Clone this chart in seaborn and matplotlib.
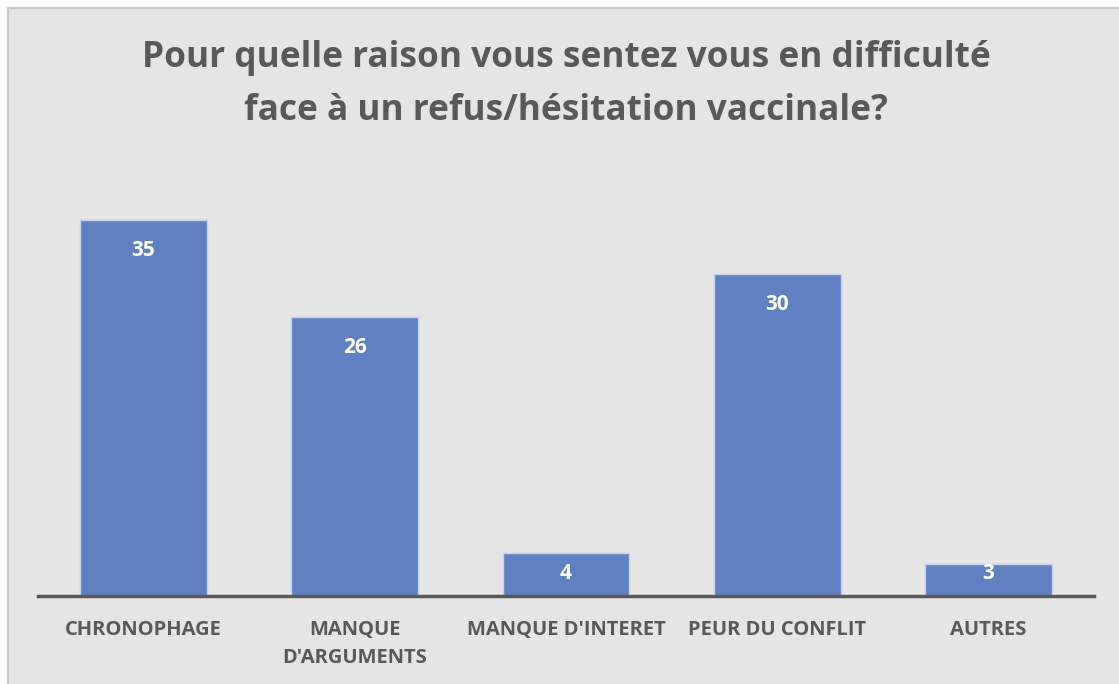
import matplotlib.pyplot as plt
import pandas as pd
import seaborn as sns
from matplotlib.patches import Rectangle

categories = ["CHRONOPHAGE", "MANQUE\nD'ARGUMENTS", "MANQUE D'INTERET", "PEUR DU CONFLIT", "AUTRES"]
counts = [35, 26, 4, 30, 3]
title = "Pour quelle raison vous sentez vous en difficulté\nface à un refus/hésitation vaccinale?"

BG = "#e4e5e4"
BAR = "#5f80c1"
TEXT = "#595959"

sns.set_theme(style="white")
plt.rcParams["font.family"] = ["Open Sans", "DejaVu Sans"]

W, H = 1119, 684
fig = plt.figure(figsize=(W / 100, H / 100), dpi=100, facecolor="white")
fig.patches.append(Rectangle((8 / W, -0.01), 1.02, 1 - 8 / H + 0.01, transform=fig.transFigure,
                             facecolor=BG, edgecolor="#c8c8c8", linewidth=1.5, zorder=0))

ax = fig.add_axes([38 / W, 1 - 596 / H, (1094 - 38) / W, (596 - 166) / H])
ax.set_zorder(2)
ax.patch.set_alpha(0)

df = pd.DataFrame({"raison": categories, "n": counts})
sns.barplot(data=df, x="raison", y="n", color=BAR, width=0.6, edgecolor="#c5d2ec",
            linewidth=1, saturation=1, ax=ax)
ax.set_xlim(-0.5, len(categories) - 0.5)
ax.set_ylim(0, 40)

# labels sit inside the bar top, but never lower than just above the baseline
for i, v in enumerate(counts):
    ax.text(i, max(v - 2.9, 2.1), str(v), ha="center", va="center",
            color="white", fontsize=15, fontweight="bold")

for s in ["top", "right", "left"]:
    ax.spines[s].set_visible(False)
ax.spines["bottom"].set_color(TEXT)
ax.spines["bottom"].set_linewidth(2.5)
ax.set_yticks([])
ax.set_xlabel("")
ax.set_ylabel("")
ax.tick_params(axis="x", length=0, pad=17, labelsize=14.5, labelcolor=TEXT)
for lbl in ax.get_xticklabels():
    lbl.set_fontweight("bold")
    lbl.set_linespacing(1.55)

t = fig.text(566 / W, 1 - 84.5 / H, title, ha="center", va="center", fontsize=25.4,
             fontweight="bold", color=TEXT, linespacing=1.6)
t.set_zorder(3)

fig.savefig("out.png", dpi=100)
